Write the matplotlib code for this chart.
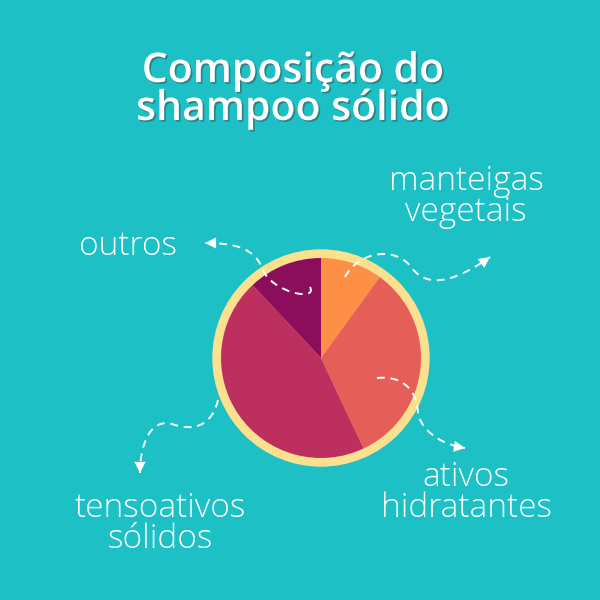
import matplotlib.pyplot as plt
import matplotlib.patheffects as pe
from matplotlib.patches import Circle, PathPatch, FancyArrowPatch
from matplotlib.path import Path

# dados da pizza (sentido horario, comecando no topo)
categorias = ['manteigas\nvegetais', 'ativos\nhidratantes', 'tensoativos\nsólidos', 'outros']
valores = [10, 33, 45, 12]
cores = ['#fd8f47', '#e55e58', '#bc2f5e', '#8a0e5b']

fundo = '#1cc0c5'
anel = '#fbe18f'

fig = plt.figure(figsize=(6, 6), dpi=100, facecolor=fundo)
ax = fig.add_axes([0, 0, 1, 1])

cx, cy = 321, 600 - 358

ax.add_patch(Circle((cx, cy), 108, color=anel, zorder=1))
ax.pie(valores, colors=cores, startangle=90, counterclock=False,
       center=(cx, cy), radius=100, frame=True,
       wedgeprops={'linewidth': 0, 'zorder': 2})
ax.set_xlim(0, 600)
ax.set_ylim(0, 600)
ax.set_aspect('equal')
ax.axis('off')

# titulo
titulo = 'Composição do\nshampoo sólido'
ax.text(293, 600 - 90, titulo, ha='center', va='center', fontsize=29.5,
        color='white', fontweight='semibold', family=['Open Sans', 'DejaVu Sans'],
        linespacing=0.86,
        path_effects=[pe.withSimplePatchShadow(offset=(1.2, -1.2), shadow_rgbFace='#3a5a60', alpha=0.6)],
        zorder=5)

# rotulos
posicoes = [(466, 197), (466, 493), (160, 524), (128, 246)]
for texto, (x, y) in zip(categorias, posicoes):
    ax.text(x, 600 - y, texto, ha='center', va='center', fontsize=24,
            color='white', fontweight='light', family=['Open Sans', 'DejaVu Sans'],
            linespacing=0.92, zorder=5)


# setas tracejadas curvas
def seta(pontos):
    pts = [(x, 600 - y) for x, y in pontos]
    codigos = [Path.MOVETO] + [Path.CURVE4] * (len(pts) - 1)
    caminho = Path(pts, codigos)
    ax.add_patch(PathPatch(caminho, fill=False, ec='white', lw=1.4,
                           ls=(0, (4, 3)), zorder=4))
    a, b = pts[-2], pts[-1]
    ax.add_patch(FancyArrowPatch(a, b, arrowstyle='-|>,head_length=8,head_width=4',
                                 color='white', lw=0, shrinkA=0, shrinkB=0,
                                 mutation_scale=1, zorder=4))


seta([(345, 277), (358, 252), (395, 245), (412, 268),
      (428, 290), (458, 280), (490, 257)])
seta([(310, 287), (318, 302), (272, 292), (263, 270),
      (255, 248), (235, 243), (205, 243)])
seta([(218, 400), (212, 425), (195, 432), (172, 424),
      (150, 418), (140, 445), (140, 473)])
seta([(377, 378), (405, 375), (418, 393), (418, 415),
      (425, 435), (445, 445), (465, 448)])

fig.savefig('out.png', dpi=100, facecolor=fundo)
